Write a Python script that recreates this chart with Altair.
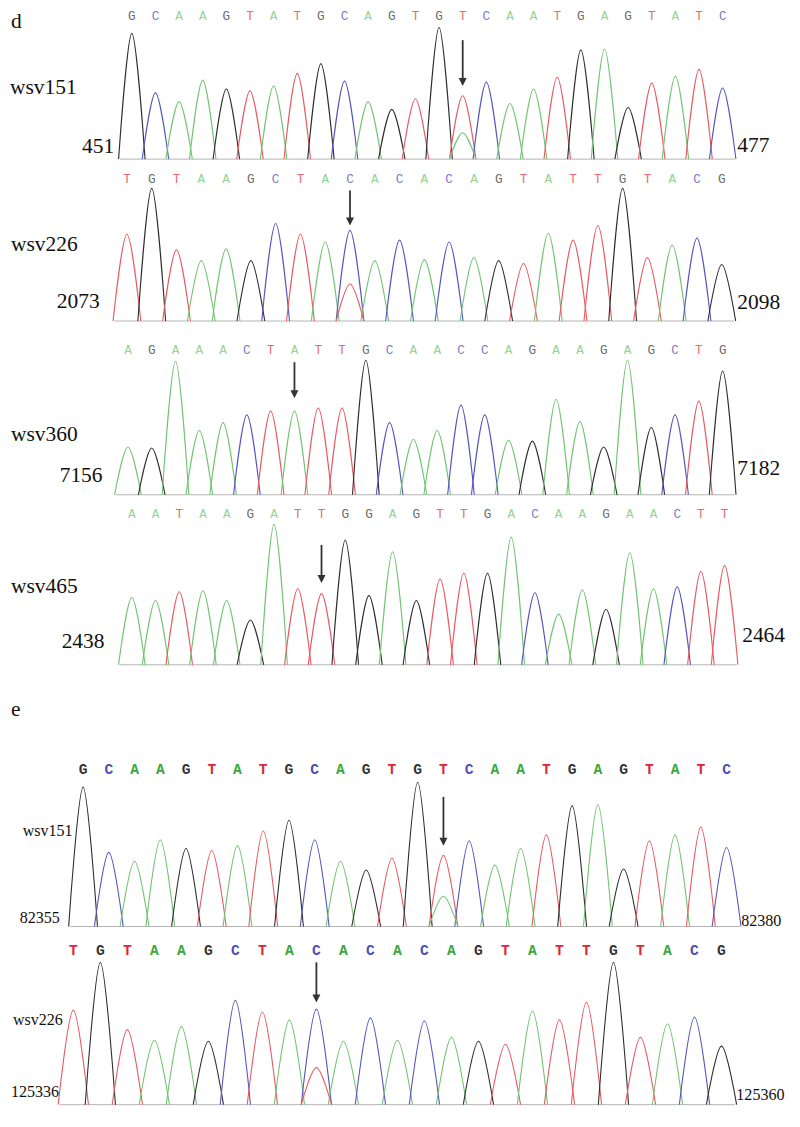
import altair as alt
import pandas as pd

# ---------------- data ----------------
SEQ_151 = list("GCAAGTATGCAGTGTCAATGAGTATC")
SEQ_226 = list("TGTAAGCTACACACAGTATTGTACG")
SEQ_360 = list("AGAAACTATTGCAACCAGAAGAGCTG")
SEQ_465 = list("AATAAGATTGGAGTTGACAAGAACTT")

# peak heights (signal units) for each called base
PEAK_D151 = [129, 68, 59, 81, 72, 70, 75, 88, 98, 80, 59, 51, 62, 135, 65, 79, 57, 72, 84, 112, 113, 53, 78, 85, 92, 73]
PEAK_D226 = [89, 136, 73, 62, 74, 62, 100, 89, 81, 93, 62, 83, 63, 81, 65, 62, 59, 90, 83, 98, 136, 65, 78, 85, 58]
PEAK_D360 = [49, 48, 137, 66, 74, 82, 86, 86, 89, 89, 138, 74, 57, 66, 92, 82, 56, 55, 98, 75, 49, 138, 69, 82, 96, 127]
PEAK_D465 = [69, 66, 75, 76, 66, 46, 144, 78, 73, 128, 71, 116, 66, 88, 94, 94, 131, 74, 52, 77, 57, 115, 78, 80, 96, 102]
PEAK_E151 = [143, 76, 67, 89, 80, 78, 83, 98, 109, 89, 67, 58, 70, 148, 73, 88, 63, 80, 94, 124, 125, 59, 88, 94, 102, 81]
PEAK_E226 = [97, 146, 77, 66, 80, 65, 107, 95, 87, 98, 65, 89, 66, 86, 69, 65, 62, 96, 87, 105, 146, 69, 83, 90, 60]

# minor (double) peaks under the arrowed positions: (base index, base, height)
MINOR_D151 = [(14, "A", 27)]
MINOR_D226 = [(9, "T", 38)]
MINOR_D360 = []
MINOR_D465 = []
MINOR_E151 = [(14, "A", 31)]
MINOR_E226 = [(9, "T", 38)]

# arrowed (SNP) base index in each trace
MUT_D151, MUT_D226, MUT_D360, MUT_D465, MUT_E151, MUT_E226 = 14, 9, 7, 8, 14, 9

NAMES = ["wsv151", "wsv226", "wsv360", "wsv465", "wsv151", "wsv226"]
START = ["451", "2073", "7156", "2438", "82355", "125336"]
END = ["477", "2098", "7182", "2464", "82380", "125360"]

# ---------------- styling / layout ----------------
S = 0.975
W = 800 * S
TRACE = {"A": "#72c472", "C": "#5656c0", "G": "#2e2e2e", "T": "#e85a62"}
LET_D = {"A": "#93d393", "C": "#7a7acb", "G": "#6c6c6c", "T": "#e46c72"}
LET_E = {"A": "#3aa83a", "C": "#4e4eb8", "G": "#333333", "T": "#dd2838"}
HALF = 0.56
SERIF = "Liberation Serif"


def panel(seq, peaks, minor, mut, band, base_y, p0, dp, let_y, let_col, let_size,
          let_weight, arrow, texts):
    n = len(seq)
    top, bot = band
    xs = alt.Scale(domain=[(0 - p0) / dp, (800 - p0) / dp], nice=False, zero=False)
    ys = alt.Scale(domain=[base_y - bot, base_y - top], nice=False, zero=False)

    rows = []
    for i, (b, h) in enumerate(zip(seq, peaks)):
        for x, y in ((i - HALF, 0), (i, h), (i + HALF, 0)):
            rows.append({"id": f"p{i}", "x": x, "y": y, "col": TRACE[b]})
    for (i, b, h) in minor:
        for x, y in ((i - HALF, 0), (i, h), (i + HALF, 0)):
            rows.append({"id": f"m{i}", "x": x, "y": y, "col": TRACE[b]})
    peak_df = pd.DataFrame(rows)

    let_df = pd.DataFrame({"i": list(range(n)), "b": seq,
                           "y": [base_y - let_y] * n,
                           "col": [let_col[b] for b in seq]})
    base_df = pd.DataFrame({"x": [-0.5], "x2": [n - 0.5], "y": [0]})
    arr_df = pd.DataFrame({"x": [mut], "y": [arrow[0]], "y2": [arrow[1] + 6],
                           "yh": [arrow[1] + 4]})

    X = lambda f: alt.X(f, type="quantitative", scale=xs, axis=None)
    Y = lambda f: alt.Y(f, type="quantitative", scale=ys, axis=None)

    layers = [
        alt.Chart(base_df).mark_rule(color="#b4b4b4", strokeWidth=1).encode(
            x=X("x"), x2="x2", y=Y("y")),
        alt.Chart(peak_df).mark_line(interpolate="cardinal", tension=0, strokeWidth=1.1).encode(
            x=X("x"), y=Y("y"), color=alt.Color("col:N", scale=None), detail="id:N"),
        alt.Chart(let_df).mark_text(font="Liberation Mono", fontSize=let_size,
                                    fontWeight=let_weight).encode(
            x=X("i"), y=Y("y"), text="b:N", color=alt.Color("col:N", scale=None)),
        alt.Chart(arr_df).mark_rule(color="#333333", strokeWidth=1.8).encode(
            x=X("x"), y=Y("y"), y2="y2"),
        alt.Chart(arr_df).mark_point(shape="M-1,-1L1,-1L0,1Z", size=64, filled=True,
                                     color="#333333", opacity=1).encode(
            x=X("x"), y=Y("yh")),
    ]
    for (t, xr, yr, size) in texts:
        layers.append(
            alt.Chart(pd.DataFrame({"t": [t]})).mark_text(
                font=SERIF, fontSize=size * S, align="left", baseline="middle",
                color="#111111").encode(
                text="t:N", x=alt.value(xr * S), y=alt.value((yr - top) * S)))
    return alt.layer(*layers).properties(width=W, height=(bot - top) * S)


FD = 22
FE = 16.5
LD = 13 * S
LE = 15 * S
panels = [
    panel(SEQ_151, PEAK_D151, MINOR_D151, MUT_D151, (0, 162), 155, 127, 24.24, 8,
          LET_D, LD, "normal", (122, 75),
          [("d", 3, 14, FD), (NAMES[0], 2, 82, FD), (START[0], 76, 143, FD), (END[0], 748, 142, FD)]),
    panel(SEQ_226, PEAK_D226, MINOR_D226, MUT_D226, (162, 330), 321, 122, 25.42, 175,
          LET_D, LD, "normal", (134, 98),
          [(NAMES[1], 3, 243, FD), (START[1], 50, 301, FD), (END[1], 748, 302, FD)]),
    panel(SEQ_360, PEAK_D360, MINOR_D360, MUT_D360, (330, 506), 499, 123, 24.4, 350,
          LET_D, LD, "normal", (136, 99),
          [(NAMES[2], 3, 438, FD), (START[2], 53, 480, FD), (END[2], 748, 473, FD)]),
    panel(SEQ_465, PEAK_D465, MINOR_D465, MUT_D465, (506, 682), 673, 127, 24.32, 518,
          LET_D, LD, "normal", (123, 84),
          [(NAMES[3], 3, 593, FD), (START[3], 55, 650, FD), (END[3], 753, 643, FD)]),
    panel(SEQ_151, PEAK_E151, MINOR_E151, MUT_E151, (682, 950), 941, 77, 26.4, 780,
          LET_E, LE, "bold", (133, 83),
          [("e", 3, 719, FD), (NAMES[4], 15, 843, FE), (START[4], 12, 932, FE), (END[4], 752, 935, FE)]),
    panel(SEQ_226, PEAK_E226, MINOR_E226, MUT_E226, (950, 1127), 1123, 67, 27.7, 965,
          LET_E, LE, "bold", (146, 105),
          [(NAMES[5], 5, 1036, FE), (START[5], 3, 1110, FE), (END[5], 747, 1113, FE)]),
]

chart = (
    alt.vconcat(*panels, spacing=0)
    .resolve_scale(x="independent", y="independent")
    .properties(padding=0, background="white")
    .configure_view(stroke=None)
)

chart.save("out.html", embed_options={"renderer": "svg", "actions": False})
